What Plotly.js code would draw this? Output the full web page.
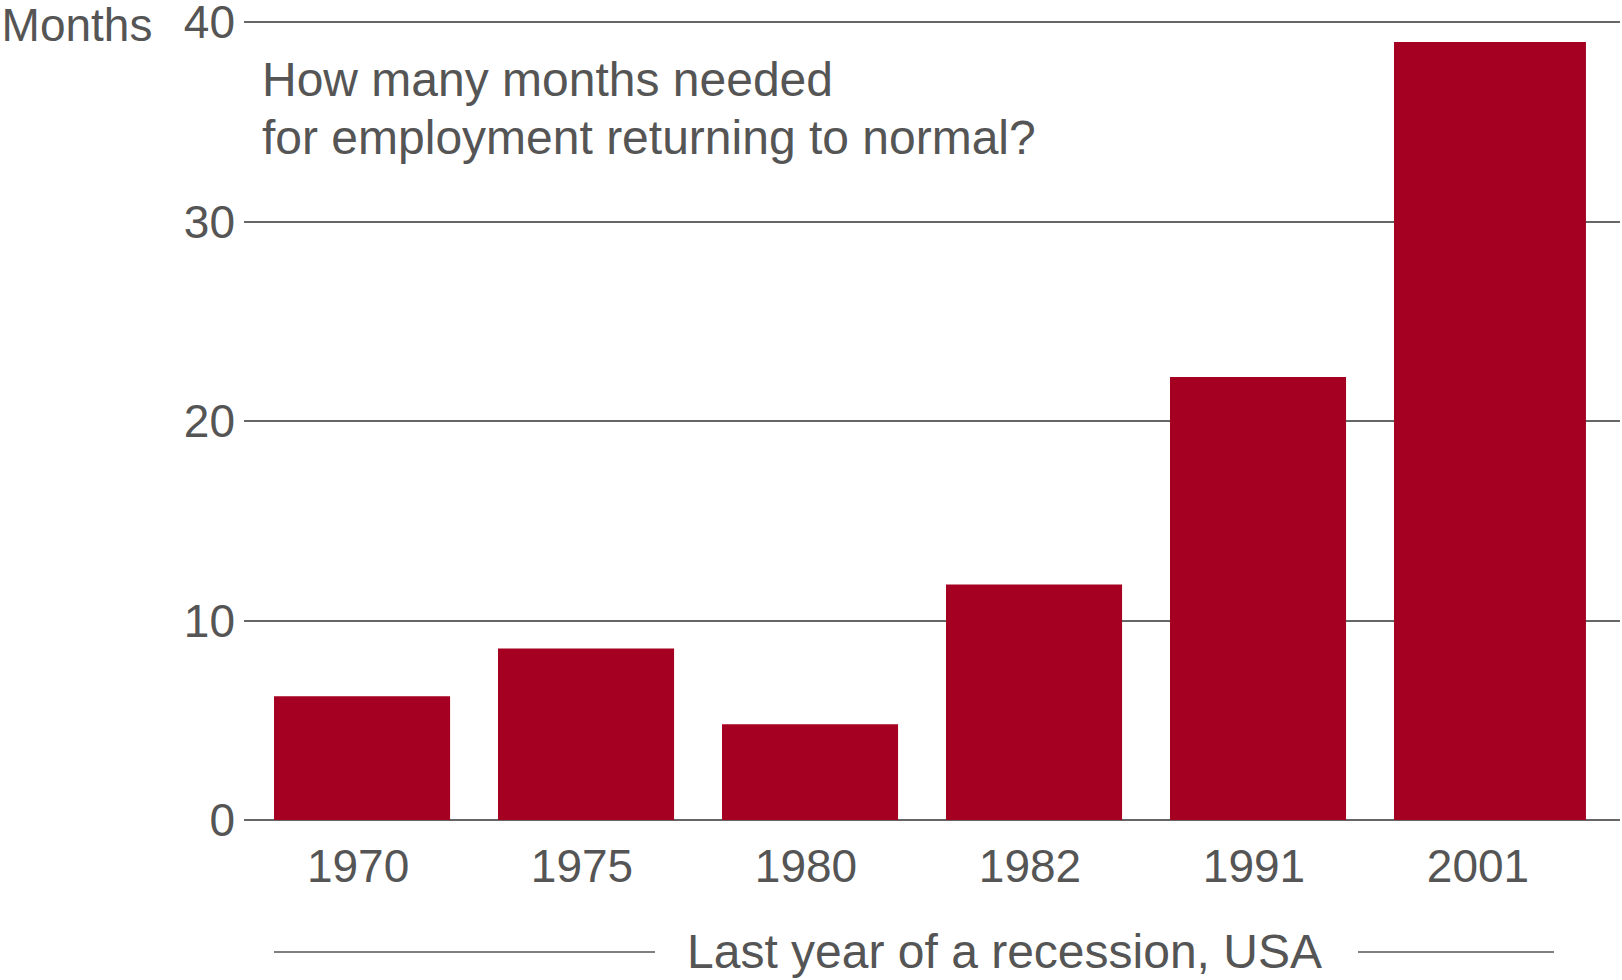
<!DOCTYPE html>
<html>
<head>
<meta charset="utf-8">
<script src="https://cdn.plot.ly/plotly-3.0.1.min.js"></script>
<style>
  html, body { margin: 0; padding: 0; background: #ffffff; }
  #chart { width: 1622px; height: 980px; }
</style>
</head>
<body>
<div id="chart"></div>
<script>
// Data
const years = ["1970", "1975", "1980", "1982", "1991", "2001"];
const monthsNeeded = [6.2, 8.6, 4.8, 11.8, 22.2, 39.0];
const yTicks = [0, 10, 20, 30, 40];

const textColor = "#555555";
const gridColor = "#666666";
const barColor = "#a50021";
const fontFamily = "'Liberation Sans', Arial, Helvetica, sans-serif";

const trace = {
  type: "bar",
  x: years,
  y: monthsNeeded,
  marker: { color: barColor, line: { width: 0 } },
  width: [0.786, 0.786, 0.786, 0.786, 0.786, 0.857],
  offset: [-0.393, -0.393, -0.393, -0.393, -0.393, -0.393],
  hoverinfo: "x+y",
  showlegend: false
};

// plot area: top 20px, bottom at 820px, height 800px
const py = (px) => (820 - px) / 800;
const plotLeft = 244, plotW = 1376;
const pxX = (px) => (px - plotLeft) / plotW;

const layout = {
  width: 1622,
  height: 980,
  margin: { l: 244, r: 2, t: 20, b: 160, pad: 0 },
  paper_bgcolor: "#ffffff",
  plot_bgcolor: "#ffffff",
  font: { family: fontFamily, color: textColor, size: 46 },
  title: {
    text: "Months",
    font: { family: fontFamily, size: 46, color: textColor },
    xref: "container", x: 0.001, xanchor: "left",
    yref: "container", y: 1 - 25 / 980, yanchor: "middle"
  },
  xaxis: {
    type: "category",
    range: [-0.527, 5.616],
    showgrid: false,
    zeroline: false,
    showline: false,
    ticks: "",
    ticklabelstandoff: 15,
    ticklabelshift: -4,
    tickfont: { family: fontFamily, size: 46, color: textColor },
    fixedrange: true
  },
  yaxis: {
    range: [0, 40.1],
    tickvals: yTicks,
    ticktext: yTicks.map(String),
    showgrid: true,
    gridcolor: gridColor,
    gridwidth: 2,
    zeroline: true,
    zerolinecolor: gridColor,
    zerolinewidth: 2,
    showline: false,
    ticks: "",
    ticklabelstandoff: 8,
    ticklabeloverflow: "allow",
    tickfont: { family: fontFamily, size: 46, color: textColor },
    fixedrange: true
  },
  annotations: [
    {
      text: "How many months needed",
      xref: "paper", yref: "paper",
      x: pxX(260), y: py(80),
      xanchor: "left", yanchor: "middle", align: "left",
      showarrow: false,
      font: { family: fontFamily, size: 48, color: textColor }
    },
    {
      text: "for employment returning to normal?",
      xref: "paper", yref: "paper",
      x: pxX(260), y: py(137),
      xanchor: "left", yanchor: "middle", align: "left",
      showarrow: false,
      font: { family: fontFamily, size: 48, color: textColor }
    },
    {
      text: "Last year of a recession, USA",
      xref: "paper", yref: "paper",
      x: pxX(1004.5), y: py(951.6),
      xanchor: "center", yanchor: "middle",
      showarrow: false,
      font: { family: fontFamily, size: 48, color: textColor }
    }
  ],
  shapes: [
    {
      type: "line", xref: "paper", yref: "paper",
      x0: pxX(274), x1: pxX(655), y0: py(952), y1: py(952),
      line: { color: textColor, width: 1.5 }
    },
    {
      type: "line", xref: "paper", yref: "paper",
      x0: pxX(1358), x1: pxX(1554), y0: py(952), y1: py(952),
      line: { color: textColor, width: 1.5 }
    }
  ]
};

Plotly.newPlot("chart", [trace], layout, { displayModeBar: false, responsive: false, staticPlot: true });
</script>
</body>
</html>
